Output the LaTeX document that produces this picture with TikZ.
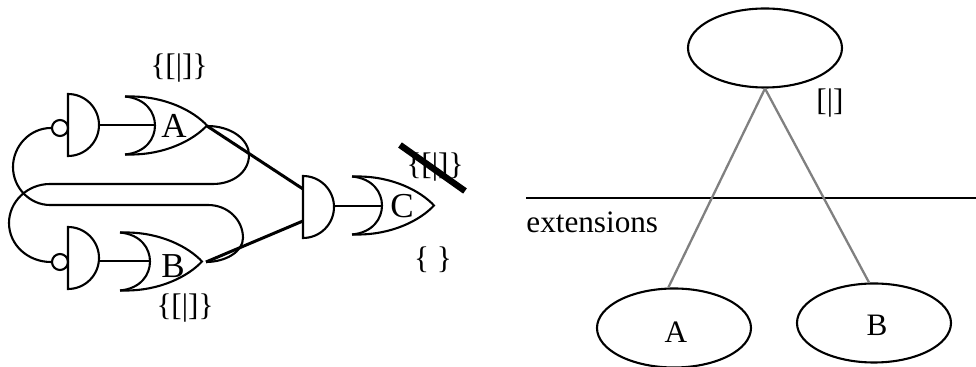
\documentclass[tikz,border=0pt]{standalone}
\usepackage{fontspec}
\setmainfont{Liberation Serif}
\usetikzlibrary{shapes.geometric}
\tikzset{
    andgate/.pic={
        \draw[gateline] (0,-31) -- (0,31) arc[start angle=-90, end angle=90, radius=31, x radius=31, y radius=-31] -- cycle;
    },
    orgate/.pic={
        \draw[gateline] (-30,-29) .. controls (-9,-27) and (0,-13) .. (0,0) .. controls (0,13) and (-9,27) .. (-30,29);
        \draw[gateline] (-30,-29) -- (-24,-29) .. controls (10,-29) and (38,-15) .. (52,0) .. controls (38,15) and (10,29) .. (-24,29) -- (-30,29);
    }
}

\begin{document}
\begin{tikzpicture}[
    x=0.5pt, y=-0.5pt,
    font=\fontsize{15.6}{18}\selectfont,
    gateline/.style={draw=black, line width=1.05pt},
    loopwire/.style={draw=black, line width=1.05pt},
    joinwire/.style={draw=black, line width=1.5pt},
    crossbar/.style={draw=black, line width=3.2pt},
    treeline/.style={draw=black!50, line width=1.15pt},
    bubble/.style={circle, draw=black, line width=1.05pt, minimum size=8pt, inner sep=0pt},
    blob/.style={ellipse, draw=black, line width=1.05pt, minimum width=77pt, minimum height=39.5pt, inner sep=0pt},
    tag/.style={inner sep=0pt},
    gatename/.style={inner sep=0pt, font=\fontsize{17.5}{20}\selectfont}
]
    \useasboundingbox (0,0) rectangle (976,367);

    % Gates
    \pic (andA) at (68,125) {andgate};
    \pic (andB) at (68,258) {andgate};
    \pic (andC) at (303,207) {andgate};
    \pic (orA) at (155,125.5) {orgate};
    \pic (orB) at (150,261.5) {orgate};
    \pic (orC) at (382,205.5) {orgate};
    \node[bubble] (bubA) at (60,128) {};
    \node[bubble] (bubB) at (60,262) {};

    % Ends of the wires
    \coordinate (andAout) at (99,125);
    \coordinate (orAin) at (155,125);
    \coordinate (orAtip) at (207,126);
    \coordinate (andBout) at (99,261);
    \coordinate (orBin) at (150,261);
    \coordinate (orBtip) at (206,262);
    \coordinate (andCout) at (334,206);
    \coordinate (orCin) at (382,206);
    \coordinate (andCup) at (303,189);
    \coordinate (andCdown) at (303,221);
    \coordinate (barS) at (400,145);
    \coordinate (barE) at (465,191);

    % Gate labels
    \node[gatename] (nameA) at (174,126) {A};
    \node[gatename] (nameB) at (173,266) {B};
    \node[gatename] (nameC) at (402,206) {C};
    \node[tag] (setA) at (179,68) {\{[|]\}};
    \node[tag] (setB) at (185,308) {\{[|]\}};
    \node[tag] (setC) at (435,167) {\{[|]\}};
    \node[tag] (setD) at (433,260) {\{ \}};

    % Wires
    \draw[gateline] (andAout) -- (orAin);
    \draw[gateline] (andBout) -- (orBin);
    \draw[gateline] (andCout) -- (orCin);
    \draw[joinwire] (orAtip) -- (andCup);
    \draw[joinwire] (orBtip) -- (andCdown);

    % Feedback loops
    \draw[loopwire] (orAtip) .. controls (232,126) and (249,140) .. (249,155)
        .. controls (249,172) and (233,184) .. (213,184) -- (50,184)
        .. controls (27,184) and (9,202) .. (9,223)
        .. controls (9,245) and (28,262) .. (bubB.west);
    \draw[loopwire] (bubA.west) .. controls (30,128) and (13,146) .. (13,167)
        .. controls (13,188) and (30,205) .. (50,205) -- (208,205)
        .. controls (228,205) and (243,220) .. (243,238)
        .. controls (243,252) and (225,262) .. (orBtip);

    \draw[crossbar] (barS) -- (barE);

    % Tree on the right
    \node[blob] (top) at (765,48) {};
    \node[blob] (extA) at (674,328) {};
    \node[blob] (extB) at (874,323) {};
    \node[tag] (nameExtA) at (676,332) {A};
    \node[tag] (nameExtB) at (877,325) {B};
    \node[tag] (setTop) at (830,103) {[|]};
    \node[tag, anchor=base west] (extText) at (526,233) {extensions};

    \coordinate (ruleL) at (526,198);
    \coordinate (ruleR) at (976,198);
    \draw[gateline] (ruleL) -- (ruleR);

    \draw[treeline] (top.south) -- (extA.98);
    \draw[treeline] (top.south) -- (extB.97);

\end{tikzpicture}
\end{document}
